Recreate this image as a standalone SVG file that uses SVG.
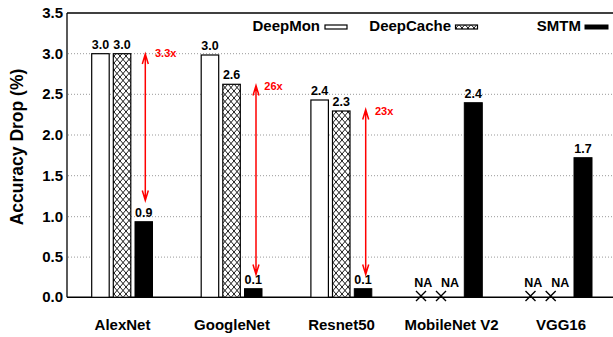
<svg xmlns="http://www.w3.org/2000/svg" width="613" height="337" viewBox="0 0 613 337">
<style>
text{font-family:"Liberation Sans",Arial,sans-serif;font-weight:bold;fill:#000}
.tick{font-size:15px;text-anchor:end}
.xl{font-size:15px;text-anchor:middle}
.val{font-size:12.5px;text-anchor:middle}
.leg{font-size:15px;text-anchor:end}
.ratio{font-size:11px;fill:#ff0000}
.grid{stroke:#999;stroke-width:1;stroke-dasharray:1,2}
.dm{fill:#fff;stroke:#000;stroke-width:1.2}
.dc{fill:url(#hatch);stroke:#000;stroke-width:1.2}
.sm{fill:#000;stroke:#000;stroke-width:1}
.arr{stroke:#ff0000;stroke-width:1.5;fill:none}
.na{stroke:#000;stroke-width:1.4;fill:none}
</style>
<defs>
<pattern id="hatch" patternUnits="userSpaceOnUse" width="6" height="7">
<rect width="6" height="7" fill="#fff"/>
<path d="M0,0 L6,7 M6,0 L0,7" stroke="#000" stroke-width="0.9"/>
</pattern>
</defs>
<rect width="613" height="337" fill="#fff"/>
<g id="grid">
<line class="grid" x1="68" y1="257.1" x2="613" y2="257.1"/>
<line class="grid" x1="68" y1="216.7" x2="613" y2="216.7"/>
<line class="grid" x1="68" y1="175.7" x2="613" y2="175.7"/>
<line class="grid" x1="68" y1="135" x2="613" y2="135"/>
<line class="grid" x1="68" y1="94.3" x2="613" y2="94.3"/>
<line class="grid" x1="68" y1="53.7" x2="613" y2="53.7"/>
</g>
<g id="axes">
<line x1="67" y1="13" x2="613" y2="13" stroke="#000" stroke-width="1.3"/>
<line x1="67" y1="13" x2="67" y2="297.3" stroke="#000" stroke-width="1.3"/>
<line x1="67" y1="297.3" x2="613" y2="297.3" stroke="#000" stroke-width="1.5"/>
<text class="tick" x="63" y="18">3.5</text>
<text class="tick" x="63" y="58.7">3.0</text>
<text class="tick" x="63" y="99.3">2.5</text>
<text class="tick" x="63" y="140">2.0</text>
<text class="tick" x="63" y="180.7">1.5</text>
<text class="tick" x="63" y="221.7">1.0</text>
<text class="tick" x="63" y="262.1">0.5</text>
<text class="tick" x="63" y="302.3">0.0</text>
<text x="0" y="0" font-size="17.5" text-anchor="middle" transform="translate(23,147) rotate(-90)">Accuracy Drop (%)</text>
</g>
<g id="legend">
<text class="leg" x="320" y="31">DeepMon</text>
<rect class="dm" x="325" y="25" width="22" height="4"/>
<text class="leg" x="451" y="31">DeepCache</text>
<rect class="dc" x="455.5" y="25" width="22" height="4"/>
<text class="leg" x="581" y="31">SMTM</text>
<rect class="sm" x="585" y="25" width="23" height="4"/>
</g>
<g id="alexnet">
<rect class="dm" x="91.7" y="53.7" width="17.5" height="243.6"/>
<rect class="dc" x="113.3" y="53.7" width="17.5" height="243.6"/>
<rect class="sm" x="135" y="221.7" width="17.5" height="75.6"/>
<text class="val" x="100.5" y="48.5">3.0</text>
<text class="val" x="122" y="48.5">3.0</text>
<text class="val" x="143.8" y="216.7">0.9</text>
<text class="xl" x="122.5" y="330">AlexNet</text>
</g>
<g id="googlenet">
<rect class="dm" x="201.2" y="55" width="17.5" height="242.3"/>
<rect class="dc" x="222.8" y="84.3" width="17.5" height="213"/>
<rect class="sm" x="244.5" y="288.7" width="17.5" height="8.6"/>
<text class="val" x="210" y="50">3.0</text>
<text class="val" x="231.6" y="79.3">2.6</text>
<text class="val" x="253.2" y="283.7">0.1</text>
<text class="xl" x="232" y="330">GoogleNet</text>
</g>
<g id="resnet50">
<rect class="dm" x="310.9" y="100" width="17.5" height="197.3"/>
<rect class="dc" x="332.5" y="111" width="17.5" height="186.3"/>
<rect class="sm" x="354.3" y="288.7" width="17.5" height="8.6"/>
<text class="val" x="319.6" y="95">2.4</text>
<text class="val" x="341.2" y="106">2.3</text>
<text class="val" x="363" y="283.7">0.1</text>
<text class="xl" x="341.5" y="330">Resnet50</text>
</g>
<g id="mobilenetv2">
<path class="na" d="M416,291 L426,301 M426,291 L416,301 M436,291 L446,301 M446,291 L436,301"/>
<text class="val" x="423.3" y="286.7">NA</text>
<text class="val" x="450" y="286.7">NA</text>
<rect class="sm" x="464.3" y="102.7" width="18" height="194.6"/>
<text class="val" x="473.3" y="97.7">2.4</text>
<text class="xl" x="451.5" y="330">MobileNet V2</text>
</g>
<g id="vgg16">
<path class="na" d="M525.5,291 L535.5,301 M535.5,291 L525.5,301 M545.7,291 L555.7,301 M555.7,291 L545.7,301"/>
<text class="val" x="533.3" y="286.7">NA</text>
<text class="val" x="560.3" y="286.7">NA</text>
<rect class="sm" x="574" y="157.7" width="18" height="139.6"/>
<text class="val" x="583" y="152.7">1.7</text>
<text class="xl" x="561" y="330">VGG16</text>
</g>
<g id="connectors">
<path class="arr" d="M145.3,54 L145.3,200.5 M142.3,64 L145.3,54 L148.3,64 M142.3,190.5 L145.3,200.5 L148.3,190.5"/>
<text class="ratio" x="155" y="57.3">3.3x</text>
<path class="arr" d="M256,85.5 L256,274.5 M253,95.5 L256,85.5 L259,95.5 M253,264.5 L256,274.5 L259,264.5"/>
<text class="ratio" x="264.3" y="90">26x</text>
<path class="arr" d="M365.7,109.5 L365.7,274.5 M362.7,119.5 L365.7,109.5 L368.7,119.5 M362.7,264.5 L365.7,274.5 L368.7,264.5"/>
<text class="ratio" x="375" y="115">23x</text>
</g>
</svg>
